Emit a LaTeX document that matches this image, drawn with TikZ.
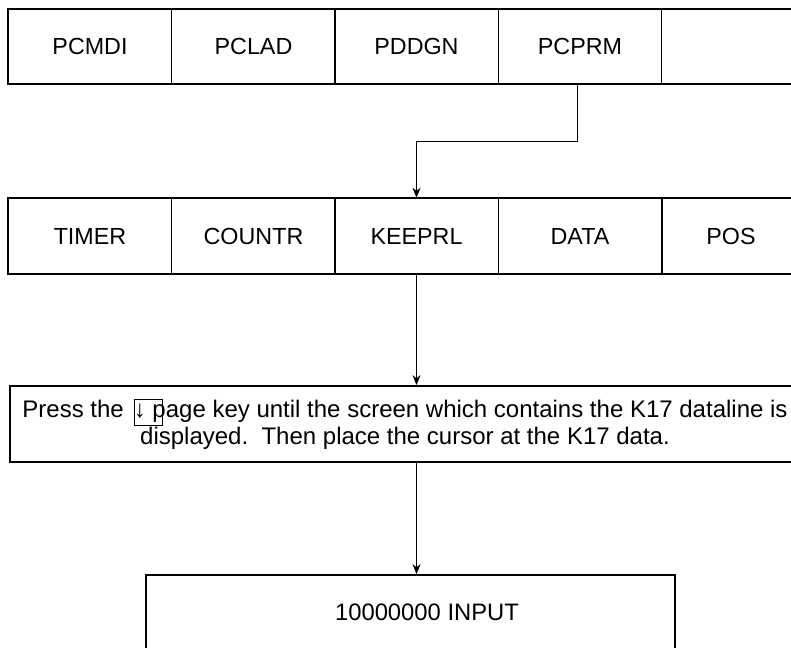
\documentclass[tikz,border=0pt]{standalone}
\usepackage{fontspec}
\setmainfont{Liberation Sans}
\usetikzlibrary{arrows.meta}

\newcommand{\keyframe}{\makebox[0pt][l]{\setlength\fboxsep{0pt}\setlength\fboxrule{0.7pt}%
  \raisebox{-8pt}{\fbox{\rule{0pt}{26pt}\hspace{27pt}}}}}

\tikzset{
  cell/.style={draw, line width=0.6pt, minimum height=75pt, inner sep=0pt,
    font=\fontsize{23.3}{27}\selectfont},
  frame/.style={line width=1.8pt},
  link/.style={line width=0.7pt, -{Stealth[length=10pt,width=8pt]}},
}

\begin{document}
\begin{tikzpicture}[x=1pt,y=-1pt]
  \useasboundingbox (0,0) rectangle (791,647);
  \clip (0,0) rectangle (791,647);
  % soft keys, first row
  \node[cell, minimum width=163.5pt] (pcmdi) at (90,46.5) {PCMDI};
  \node[cell, minimum width=163.5pt] (pclad) at (253.5,46.5) {PCLAD};
  \node[cell, minimum width=163.5pt] (pddgn) at (416.5,46.5) {PDDGN};
  \node[cell, minimum width=163.5pt] (pcprm) at (580,46.5) {PCPRM};
  \node[cell, minimum width=163.5pt] (blank) at (743.5,46.5) {};
  \draw[frame] (pcmdi.north west) rectangle (blank.south east);
  % soft keys, second row
  \node[cell, minimum width=163.5pt, minimum height=76pt] (timer) at (90,236) {TIMER};
  \node[cell, minimum width=163.5pt, minimum height=76pt] (countr) at (253.5,236) {COUNTR};
  \node[cell, minimum width=163.5pt, minimum height=76pt] (keeprl) at (416.5,236) {KEEPRL};
  \node[cell, minimum width=163.5pt, minimum height=76pt] (data) at (580,236) {DATA};
  \node[cell, minimum width=138pt, minimum height=76pt] (pos) at (731,236) {POS};
  \draw[frame] (timer.north west) rectangle (pos.south east);
  % instruction box
  \node[cell, frame, minimum width=790pt, minimum height=76pt, align=center,
    font=\fontsize{24}{27}\selectfont] (find) at (405,424)
    {Press the\hspace{10pt}\keyframe\char"2193\ page key until the screen which contains the K17 dataline is\\
     displayed.\ \ Then place the cursor at the K17 data.};
  % input box
  \node[cell, frame, minimum width=529pt, minimum height=74pt] (enter) at (410.5,612) {};
  \node[font=\fontsize{23.8}{27}\selectfont] (value) at (427,612) {10000000 INPUT};
  % connectors
  \coordinate (turn) at (577,141);
  \draw[link] (pcprm.south -| turn) -- (turn) -| (keeprl.north);
  \draw[link] (keeprl.south) -- (keeprl.south |- find.north);
  \draw[link] (keeprl.south |- find.south) -- (keeprl.south |- enter.north);
\end{tikzpicture}
\end{document}
